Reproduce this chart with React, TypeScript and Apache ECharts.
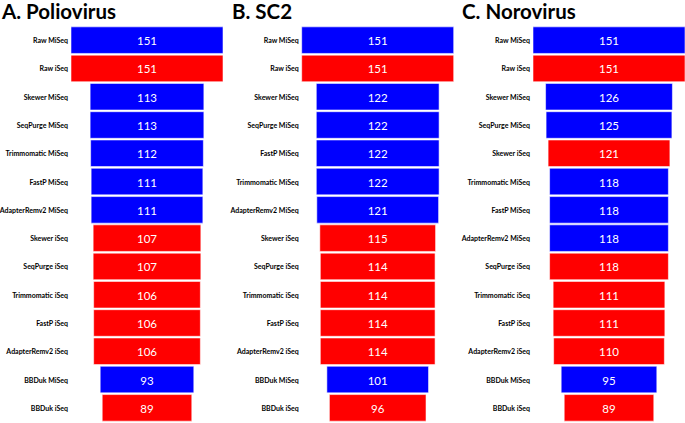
import React, { useEffect, useRef } from "react";
import * as echarts from "echarts";

const titles = ["A. Poliovirus", "B. SC2", "C. Norovirus"];

const polioCategories = [
  "Raw MiSeq", "Raw iSeq", "Skewer MiSeq", "SeqPurge MiSeq", "Trimmomatic MiSeq", "FastP MiSeq",
  "AdapterRemv2 MiSeq", "Skewer iSeq", "SeqPurge iSeq", "Trimmomatic iSeq", "FastP iSeq",
  "AdapterRemv2 iSeq", "BBDuk MiSeq", "BBDuk iSeq",
];
const polioValues = [151, 151, 113, 113, 112, 111, 111, 107, 107, 106, 106, 106, 93, 89];

const sc2Categories = [
  "Raw MiSeq", "Raw iSeq", "Skewer MiSeq", "SeqPurge MiSeq", "FastP MiSeq", "Trimmomatic MiSeq",
  "AdapterRemv2 MiSeq", "Skewer iSeq", "SeqPurge iSeq", "Trimmomatic iSeq", "FastP iSeq",
  "AdapterRemv2 iSeq", "BBDuk MiSeq", "BBDuk iSeq",
];
const sc2Values = [151, 151, 122, 122, 122, 122, 121, 115, 114, 114, 114, 114, 101, 96];

const noroCategories = [
  "Raw MiSeq", "Raw iSeq", "Skewer MiSeq", "SeqPurge MiSeq", "Skewer iSeq", "Trimmomatic MiSeq",
  "FastP MiSeq", "AdapterRemv2 MiSeq", "SeqPurge iSeq", "Trimmomatic iSeq", "FastP iSeq",
  "AdapterRemv2 iSeq", "BBDuk MiSeq", "BBDuk iSeq",
];
const noroValues = [151, 151, 126, 125, 121, 118, 118, 118, 118, 111, 111, 110, 95, 89];

const MAX_VALUE = 151;
const MISEQ_COLOR = "#0000ff";
const ISEQ_COLOR = "#ff0000";
const FONT = "Lato, 'Liberation Sans', sans-serif";

const panels = [
  { cats: polioCategories, vals: polioValues, left: 71, titleLeft: 2 },
  { cats: sc2Categories, vals: sc2Values, left: 301.7, titleLeft: 232 },
  { cats: noroCategories, vals: noroValues, left: 533, titleLeft: 462 },
];

export default function App() {
  const ref = useRef<HTMLDivElement>(null);
  useEffect(() => {
    document.body.style.margin = "0";
    const chart = echarts.init(ref.current!, null, { renderer: "svg" });
    const grids: any[] = [];
    const xAxes: any[] = [];
    const yAxes: any[] = [];
    const series: any[] = [];
    const titleOpts: any[] = [];
    panels.forEach((p, gi) => {
      grids.push({
        left: p.left, width: 152, top: 26, height: 396,
        containLabel: false, outerBoundsMode: "none",
      });
      xAxes.push({
        type: "value", gridIndex: gi, min: -MAX_VALUE / 2, max: MAX_VALUE / 2, show: false,
      });
      yAxes.push({
        type: "category", gridIndex: gi, inverse: true, data: p.cats,
        axisLine: { show: false }, axisTick: { show: false }, splitLine: { show: false },
        axisLabel: { margin: 3, fontSize: 7, fontWeight: "bold", color: "#000", fontFamily: FONT },
      });
      titleOpts.push({
        text: titles[gi], left: p.titleLeft, top: 0, padding: 0,
        textStyle: { fontSize: 20.5, fontWeight: "bold", color: "#000", fontFamily: FONT },
      });
      const cats = p.cats;
      series.push({
        type: "custom",
        xAxisIndex: gi,
        yAxisIndex: gi,
        encode: { x: 0, y: 1 },
        data: p.vals.map((v, i) => [v, i]),
        renderItem: (params: any, api: any) => {
          const v = api.value(0);
          const idx = api.value(1);
          const l = api.coord([-v / 2, idx]);
          const r = api.coord([v / 2, idx]);
          const band = api.size([0, 1])[1];
          const h = band * 0.94;
          const color = cats[idx].indexOf("MiSeq") >= 0 ? MISEQ_COLOR : ISEQ_COLOR;
          return {
            type: "group",
            children: [
              {
                type: "rect",
                shape: { x: l[0], y: l[1] - h / 2, width: r[0] - l[0], height: h },
                style: { fill: color, stroke: "rgba(255,255,255,0.55)", lineWidth: 1 },
              },
              {
                type: "text",
                x: (l[0] + r[0]) / 2,
                y: l[1] + 0.5,
                style: {
                  text: String(v), fill: "#fff", align: "center", verticalAlign: "middle",
                  fontSize: 11.5, fontFamily: FONT,
                },
              },
            ],
          };
        },
      });
    });
    chart.setOption({
      animation: false,
      backgroundColor: "#fff",
      title: titleOpts,
      grid: grids,
      xAxis: xAxes,
      yAxis: yAxes,
      series,
    });
    return () => chart.dispose();
  }, []);
  return (
    <div
      ref={ref}
      style={{ position: "absolute", left: 0, top: 0, width: 685, height: 423 }}
    />
  );
}
